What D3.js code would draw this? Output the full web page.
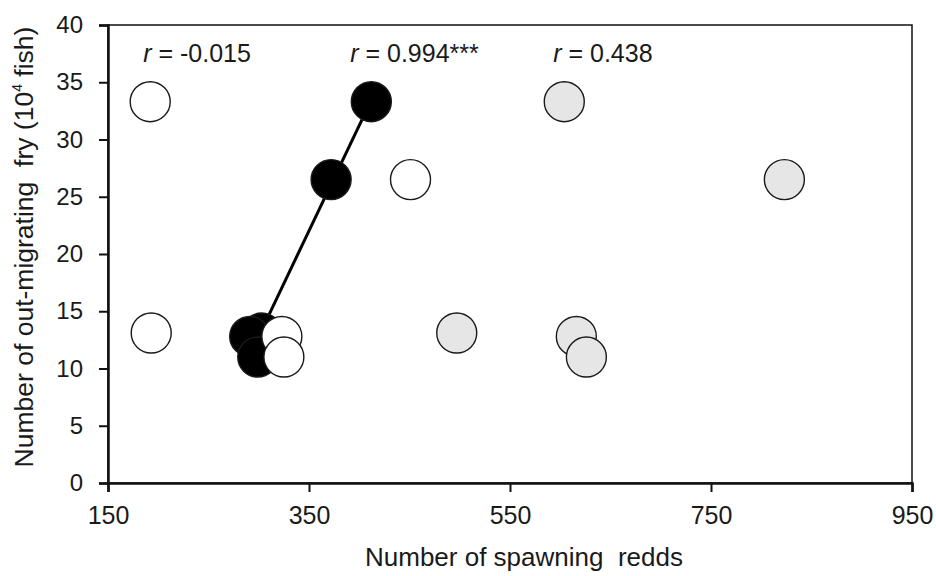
<!DOCTYPE html>
<html lang="en">
<head>
<meta charset="UTF-8">
<title>Fry vs redds</title>
<style>
  body { margin: 0; background: #fff; }
  svg text { font-family: "Liberation Sans", Arial, sans-serif; fill: #1a1a1a; white-space: pre; }
</style>
</head>
<body>
<svg width="936" height="576"></svg>
<script src="https://d3js.org/d3.v7.min.js"></script>
<script>
// fry counts (10^4 fish), one per year, shared by the three groups
const fry = [33.3, 26.5, 13.1, 12.8, 11.0];
// number of spawning redds for each group
const reddsOpen = [192, 451, 193, 323, 325];
const reddsBlack = [412, 372, 303, 291, 299];
const reddsGrey = [604, 823, 497, 616, 626];
const xTicks = [150, 350, 550, 750, 950];
const yTicks = [0, 5, 10, 15, 20, 25, 30, 35, 40];
const rLabels = [
  { r: "-0.015", x: 185 },
  { r: "0.994***", x: 391 },
  { r: "0.438", x: 593 }
];

const svg = d3.select("svg");
const margin = { left: 108, right: 24, top: 25, bottom: 93 };
const W = +svg.attr("width"), H = +svg.attr("height");

const x = d3.scaleLinear().domain([150, 950]).range([margin.left, W - margin.right]);
const y = d3.scaleLinear().domain([0, 40]).range([H - margin.bottom, margin.top]);

// frame: top and right thin
svg.append("rect")
  .attr("x", x(150)).attr("y", y(40))
  .attr("width", x(950) - x(150)).attr("height", y(0) - y(40))
  .attr("fill", "none").attr("stroke", "#111").attr("stroke-width", 1.5);

const xAxis = svg.append("g")
  .attr("transform", "translate(0," + y(0) + ")")
  .call(d3.axisBottom(x).tickValues(xTicks).tickSize(9).tickPadding(14));
const yAxis = svg.append("g")
  .attr("transform", "translate(" + x(150) + ",0)")
  .call(d3.axisLeft(y).tickValues(yTicks).tickSize(9).tickPadding(16));

[xAxis, yAxis].forEach(a => {
  a.select(".domain").attr("stroke", "#111").attr("stroke-width", 2.5);
  a.selectAll(".tick line").attr("stroke", "#111").attr("stroke-width", 2);
  a.selectAll(".tick text").attr("fill", "#1a1a1a")
    .style("font-family", "'Liberation Sans', Arial, sans-serif");
});
xAxis.selectAll(".tick text").attr("font-size", 25);
yAxis.selectAll(".tick text").attr("font-size", 24);

// regression line through the black group
const xm = d3.mean(reddsBlack), ym = d3.mean(fry);
const slope = d3.sum(reddsBlack, (v, i) => (v - xm) * (fry[i] - ym)) /
  d3.sum(reddsBlack, v => (v - xm) * (v - xm));
const x0 = d3.min(reddsBlack), x1 = d3.max(reddsBlack);
svg.append("line")
  .attr("x1", x(x0)).attr("y1", y(ym + slope * (x0 - xm)))
  .attr("x2", x(x1)).attr("y2", y(ym + slope * (x1 - xm)))
  .attr("stroke", "#000").attr("stroke-width", 3);

function dots(redds, fill) {
  svg.append("g").selectAll("circle")
    .data(redds.map((v, i) => [v, fry[i]]))
    .join("circle")
    .attr("cx", d => x(d[0])).attr("cy", d => y(d[1]))
    .attr("r", 20)
    .attr("fill", fill).attr("stroke", "#1a1a1a").attr("stroke-width", 1.4);
}
dots(reddsGrey, "#e6e6e6");
dots(reddsBlack, "#000");
dots(reddsOpen, "#fff");

// correlation labels
rLabels.forEach(l => {
  const t = svg.append("text")
    .attr("x", x(l.x)).attr("y", 62)
    .attr("font-size", 25);
  t.append("tspan").attr("font-style", "italic").text("r");
  t.append("tspan").text(" = " + l.r);
});

// axis titles
svg.append("text")
  .attr("x", 524).attr("y", 566)
  .attr("text-anchor", "middle").attr("font-size", 26)
  .text("Number of spawning  redds");

const yl = svg.append("text")
  .attr("transform", "translate(33,247) rotate(-90)")
  .attr("text-anchor", "middle").attr("font-size", 26.5);
yl.append("tspan").text("Number of out-migrating  fry (10");
yl.append("tspan").attr("font-size", 14).attr("dy", -11).text("4");
yl.append("tspan").attr("dy", 11).text(" fish)");
</script>
</body>
</html>
